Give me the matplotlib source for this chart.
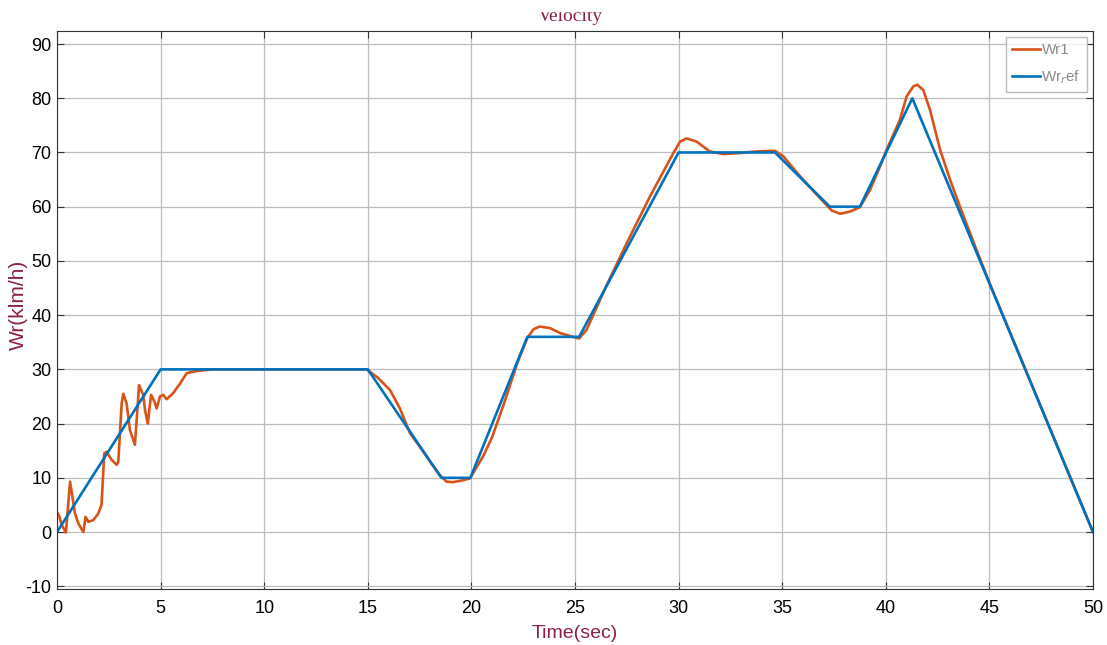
import numpy as np
import matplotlib.pyplot as plt
from matplotlib.patches import Rectangle

plt.rcParams['axes.unicode_minus'] = False

# reference speed profile (blue)
t_ref = [0, 5, 15, 18.55, 19.95, 22.7, 25.2, 30, 34.65, 37.3, 38.75, 41.28, 50]
w_ref = [0, 30, 30, 10, 10, 36, 36, 70, 70, 60, 60, 80, 0]

# measured speed Wr1 (orange)
t_wr1 = [0, 0.1, 0.23, 0.43, 0.63, 0.87, 1.03, 1.27, 1.38, 1.51, 1.75, 1.99, 2.15,
         2.28, 2.4, 2.64, 2.88, 2.96, 3.12, 3.2, 3.36, 3.52, 3.76, 3.89, 3.96, 4.16,
         4.25, 4.38, 4.54, 4.7, 4.81, 4.97, 5.13, 5.29, 5.6, 5.94, 6.26, 6.75, 7.5,
         14.95, 15.5, 16.07, 16.55, 17.04, 17.52, 18.0, 18.48, 18.8, 19.1, 19.53,
         19.93, 20.57, 21.0, 21.6, 22.2, 22.7, 23.0, 23.3, 23.8, 24.28, 24.9, 25.2,
         25.56, 26.5, 27.5, 28.62, 29.75, 30.07, 30.39, 30.87, 31.5, 32.15, 32.96,
         33.76, 34.65, 35.05, 35.86, 36.82, 37.39, 37.79, 38.27, 38.75, 39.24, 39.72,
         40.04, 40.68, 41.0, 41.33, 41.52, 41.81, 42.13, 42.62, 43.1, 43.58, 44.3,
         45.0, 50]
w_wr1 = [3.7, 3.0, 1.3, -0.1, 9.3, 3.4, 1.6, 0.0, 2.8, 1.9, 2.2, 3.4, 5.0,
         14.5, 14.8, 13.3, 12.4, 13.0, 23.7, 25.5, 23.7, 18.8, 16.1, 23.1, 27.1, 25.3,
         22.5, 20.0, 25.3, 24.1, 22.8, 25.0, 25.3, 24.5, 25.6, 27.4, 29.3, 29.7, 30.0,
         30.0, 28.4, 26.2, 22.8, 18.2, 15.7, 13.0, 10.5, 9.3, 9.2, 9.5,
         9.9, 14.0, 17.5, 24.0, 31.0, 35.8, 37.4, 37.9, 37.6, 36.7, 36.0, 35.7,
         37.3, 45.3, 53.3, 61.9, 69.9, 72.0, 72.6, 72.0, 70.2, 69.7, 69.9,
         70.2, 70.3, 69.3, 65.6, 61.6, 59.3, 58.7, 59.1, 59.9, 63.1, 67.4,
         70.5, 76.0, 80.3, 82.2, 82.5, 81.5, 77.9, 70.5, 65.0, 60.0, 52.8,
         46.0, 0]

orange = '#d95319'
blue = '#0072bd'
maroon = '#8a1f4c'

fig = plt.figure(figsize=(11.07, 6.45), dpi=100)
ax = fig.add_axes([57/1107, 1-589/645, (1093-57)/1107, (589-31)/645])

ax.plot(t_wr1, w_wr1, color=orange, lw=1.9, label='Wr1')
ax.plot(t_ref, w_ref, color=blue, lw=1.9, label='Wr$_r$ef')

ax.set_xlim(0, 50)
ax.set_ylim(-10.5, 92.4)
ax.set_xticks(np.arange(0, 51, 5))
ax.set_yticks(np.arange(-10, 91, 10))
ax.grid(True, color='#bdbdbd', lw=0.9)
ax.tick_params(direction='in', top=True, right=True, length=5, color='#333333')
for s in ax.spines.values():
    s.set_color('#333333')

for lab in ax.get_xticklabels():
    lab.set_family('Liberation Sans')
    lab.set_fontsize(13)
for lab in ax.get_yticklabels():
    lab.set_family('Liberation Sans')
    lab.set_fontsize(13)
ax.tick_params(axis='x', pad=8)
ax.tick_params(axis='y', pad=4)

ax.set_xlabel('Time(sec)', family='Liberation Sans', fontsize=14, color=maroon)
ax.xaxis.set_label_coords(0.5, -(633-589)/558, transform=ax.transAxes)
ax.xaxis.label.set_va('center')
ax.set_ylabel('Wr(klm/h)', family='Liberation Sans', fontsize=15, color=maroon)
ax.yaxis.set_label_coords(-(57-18)/1036, 0.51)
ax.yaxis.label.set_va('center')

leg = ax.legend(loc='upper right', fontsize=11, frameon=True, fancybox=False,
                edgecolor='#aaaaaa', borderaxespad=0.4, handlelength=1.8,
                handletextpad=0.1, labelspacing=0.7, borderpad=0.4)
for txt in leg.get_texts():
    txt.set_color('#8c8c8c')
    txt.set_family('Liberation Sans')

# title, partly cut off at the top as in the original
fig.text(0.515, 1-21/645, 'Velocity', family=['Liberation Serif', 'DejaVu Serif'],
         fontsize=14, color=maroon, ha='center', va='baseline')
fig.add_artist(Rectangle((0, 1-11/645), 1, 11/645, transform=fig.transFigure,
                         color='white', zorder=10))

fig.savefig('out.png', dpi=100)
